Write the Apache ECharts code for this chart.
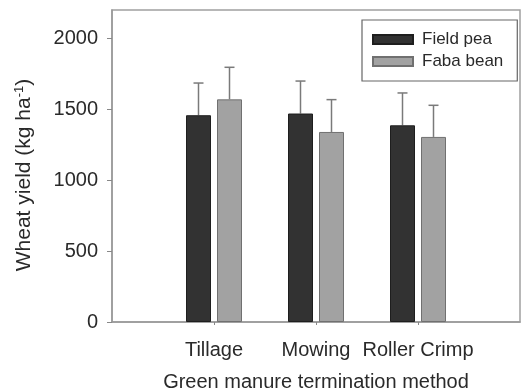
<!DOCTYPE html>
<html>
<head>
<meta charset="utf-8">
<script src="https://cdn.jsdelivr.net/npm/echarts@6/dist/echarts.min.js"></script>
<style>html,body{margin:0;padding:0;background:#fff}#c{width:523px;height:391px}</style>
</head>
<body>
<div id="c"></div>
<script>
const categories = ['Tillage', 'Mowing', 'Roller Crimp'];
const fieldPea = [1458, 1470, 1387];
const fieldPeaUpper = [1685, 1699, 1615];
const fabaBean = [1570, 1340, 1305];
const fabaBeanUpper = [1796, 1568, 1528];
const yTicks = [0, 500, 1000, 1500, 2000];

const FONT = 'Liberation Sans, Arial, sans-serif';
const axisCats = [''].concat(categories, ['']);
const pad = arr => [null].concat(arr, [null]);
const BAR_W = 25, GAP = 6;
const OFF = (BAR_W + GAP) / 2;

function errSeries(name, means, uppers, offset) {
  return {
    type: 'custom',
    name: name + ' err',
    z: 1,
    data: means.map((m, i) => [i + 1, m, uppers[i]]),
    renderItem: function (params, api) {
      const base = api.coord([api.value(0), api.value(1)]);
      const top = api.coord([api.value(0), api.value(2)]);
      const x = base[0] + offset;
      const st = { stroke: '#7a7a7a', lineWidth: 1.5 };
      return {
        type: 'group',
        children: [
          { type: 'line', shape: { x1: x, y1: base[1], x2: x, y2: top[1] }, style: st },
          { type: 'line', shape: { x1: x - 5, y1: top[1], x2: x + 5, y2: top[1] }, style: st }
        ]
      };
    }
  };
}

const chart = echarts.init(document.getElementById('c'), null, { renderer: 'canvas' });
chart.setOption({
  animation: false,
  backgroundColor: '#fff',
  textStyle: { fontFamily: FONT },
  grid: {
    left: 112, right: 3, top: 10, bottom: 69,
    outerBoundsMode: 'none', containLabel: false,
    show: true, borderColor: '#a0a0a0', borderWidth: 1.5, backgroundColor: 'transparent'
  },
  legend: {
    orient: 'vertical',
    left: 362, top: 20,
    padding: [11, 14, 11, 10],
    itemGap: 5,
    itemWidth: 40, itemHeight: 9,
    icon: 'rect',
    borderColor: '#666', borderWidth: 1.2,
    textStyle: { fontFamily: FONT, fontSize: 17, color: '#2a2a2a', lineHeight: 17, padding: [0, 0, 0, 4] },
    data: ['Field pea', 'Faba bean']
  },
  xAxis: {
    type: 'category',
    data: axisCats,
    boundaryGap: false,
    name: 'Green manure termination method',
    nameLocation: 'middle',
    nameGap: 50,
    nameTextStyle: { fontFamily: FONT, fontSize: 20, color: '#2a2a2a' },
    axisLine: { lineStyle: { color: '#999', width: 1.5 } },
    axisTick: { show: true, length: 3, lineStyle: { color: '#888' }, interval: function (i) { return i > 0 && i < axisCats.length - 1; } },
    axisLabel: { interval: 0, margin: 18, fontFamily: FONT, fontSize: 20, color: '#2a2a2a' },
    splitLine: { show: false }
  },
  yAxis: {
    type: 'value',
    min: 0, max: 2200, interval: 500,
    name: '{a|Wheat yield (kg ha}{s|-1}{a|)}',
    nameLocation: 'middle',
    nameGap: 76,
    nameTextStyle: {
      padding: [0, 18, 0, 0],
      rich: {
        a: { fontFamily: FONT, fontSize: 21, color: '#2a2a2a' },
        s: { fontFamily: FONT, fontSize: 13, color: '#2a2a2a', padding: [0, 0, 10, 0] }
      }
    },
    axisLine: { show: true, lineStyle: { color: '#999', width: 1.5 } },
    axisTick: { show: true, length: 5, lineStyle: { color: '#888' } },
    axisLabel: {
      margin: 14, fontFamily: FONT, fontSize: 20, color: '#2a2a2a',
      showMaxLabel: false,
      formatter: function (v) { return yTicks.indexOf(v) >= 0 ? String(v) : ''; }
    },
    splitLine: { show: false }
  },
  series: [
    {
      name: 'Field pea', type: 'bar', data: pad(fieldPea), barWidth: BAR_W, barGap: (GAP / BAR_W * 100) + '%', z: 2,
      itemStyle: { color: '#323232', borderColor: '#1e1e1e', borderWidth: 1 }
    },
    {
      name: 'Faba bean', type: 'bar', data: pad(fabaBean), barWidth: BAR_W, z: 2,
      itemStyle: { color: '#a2a2a2', borderColor: '#707070', borderWidth: 1 }
    },
    errSeries('Field pea', fieldPea, fieldPeaUpper, -OFF),
    errSeries('Faba bean', fabaBean, fabaBeanUpper, OFF)
  ]
});
</script>
</body>
</html>
